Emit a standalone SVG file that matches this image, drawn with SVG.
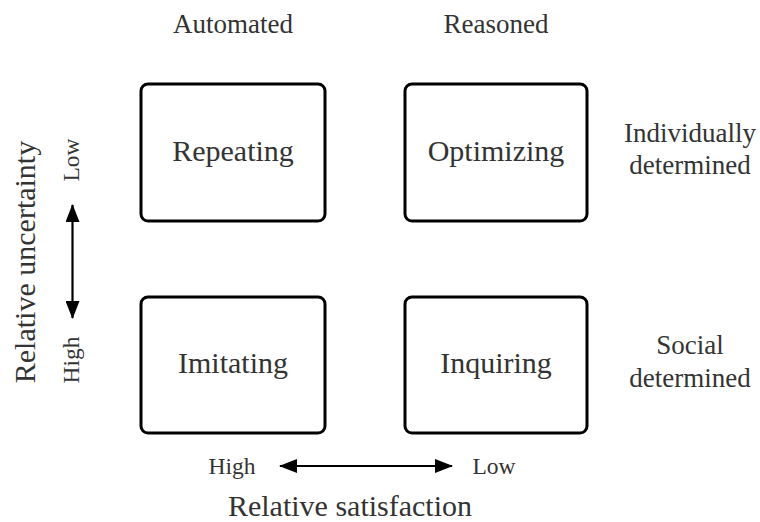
<svg xmlns="http://www.w3.org/2000/svg" width="760" height="522" viewBox="0 0 760 522">
  <style>
    text { font-family: "Liberation Serif", "DejaVu Serif", serif; fill: #333; text-anchor: middle; }
    .lbl { font-size: 27px; }
    .axis { font-size: 30px; }
    .big { font-size: 30px; }
    .sm { font-size: 23.5px; }
    .box { fill: #fff; stroke: #000; stroke-width: 3; }
    .conn { stroke: #000; stroke-width: 2.2; fill: none; }
  </style>
  <defs>
    <marker id="head" viewBox="0 0 18 14" refX="17" refY="7" markerWidth="18" markerHeight="14" markerUnits="userSpaceOnUse" orient="auto-start-reverse">
      <path d="M0,0 L18,7 L0,14 Z" fill="#000"/>
    </marker>
  </defs>
  <rect width="760" height="522" fill="#fff"/>

  <!-- column headings -->
  <text class="lbl" x="233" y="33">Automated</text>
  <text class="lbl" x="496" y="33">Reasoned</text>

  <!-- row headings -->
  <text class="lbl" x="690" y="142">Individually</text>
  <text class="lbl" x="690" y="174">determined</text>
  <text class="lbl" x="690" y="354">Social</text>
  <text class="lbl" x="690" y="387">determined</text>

  <!-- quadrants -->
  <g id="repeating">
    <rect class="box" x="141" y="84" width="184" height="137" rx="7"/>
    <text class="big" x="233" y="161">Repeating</text>
  </g>
  <g id="optimizing">
    <rect class="box" x="405" y="84" width="182" height="137" rx="7"/>
    <text class="big" x="496" y="161">Optimizing</text>
  </g>
  <g id="imitating">
    <rect class="box" x="141" y="297" width="184" height="136" rx="7"/>
    <text class="big" x="233" y="373">Imitating</text>
  </g>
  <g id="inquiring">
    <rect class="box" x="405" y="297" width="182" height="136" rx="7"/>
    <text class="big" x="496" y="373">Inquiring</text>
  </g>

  <!-- axes -->
  <g id="connectors">
    <line class="conn" x1="72.5" y1="205" x2="72.5" y2="318" marker-start="url(#head)" marker-end="url(#head)"/>
    <line class="conn" x1="280" y1="466" x2="452" y2="466" marker-start="url(#head)" marker-end="url(#head)"/>
  </g>

  <text class="axis" transform="translate(35,262) rotate(-90)">Relative uncertainty</text>
  <text class="sm" transform="translate(79,160) rotate(-90)">Low</text>
  <text class="sm" transform="translate(79,360) rotate(-90)">High</text>

  <text class="sm" x="232" y="474">High</text>
  <text class="sm" x="494" y="474">Low</text>
  <text class="axis" x="350" y="516">Relative satisfaction</text>
</svg>
